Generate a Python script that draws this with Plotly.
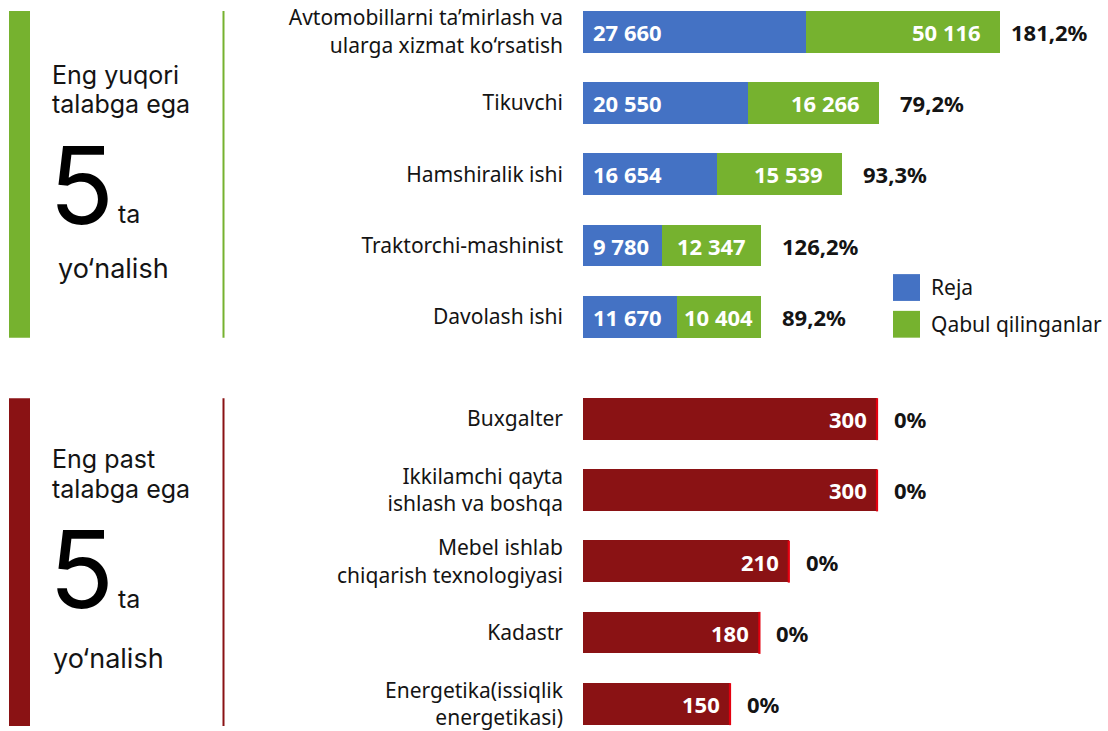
import plotly.graph_objects as go

W, H = 1108, 731

# ---------------- data ----------------
top_cats = ["Avtomobillarni ta’mirlash va<br>ularga xizmat ko‘rsatish", "Tikuvchi",
            "Hamshiralik ishi", "Traktorchi-mashinist", "Davolash ishi"]
top_plan = [27660, 20550, 16654, 9780, 11670]
top_admitted = [50116, 16266, 15539, 12347, 10404]
top_pct = ["181,2%", "79,2%", "93,3%", "126,2%", "89,2%"]

bot_cats = ["Buxgalter", "Ikkilamchi qayta<br>ishlash va boshqa",
            "Mebel ishlab<br>chiqarish texnologiyasi", "Kadastr",
            "Energetika(issiqlik<br>energetikasi)"]
bot_plan = [300, 300, 210, 180, 150]
bot_admitted = [0, 0, 0, 0, 0]
bot_pct = ["0%", "0%", "0%", "0%", "0%"]

legend_names = ["Reja", "Qabul qilinganlar"]
panel_titles = [("Eng yuqori", "talabga ega"), ("Eng past", "talabga ega")]
panel_count = [5, 5]

# ---------------- style ----------------
BLUE = "#4472C4"
GREEN = "#76B22F"
DARKRED = "#8A1214"
BRIGHTRED = "#E3000F"
TXT = "#141414"
FONT = "Noto Sans"
SIDEFONT = "Inter"
NUMFONT = "Noto Sans"

TOP_XMAX = 51830
BOT_XMAX = 425.5
BARW = 0.585
X0_PX, X1_PX = 583, 1000


def fmt(v):
    return f"{v:,}".replace(",", " ")


def px(x):
    return x / W


def py(y):
    return 1 - y / H


fig = go.Figure()

fig.add_trace(go.Bar(y=list(range(5)), x=top_plan, orientation="h", name=legend_names[0],
                     marker=dict(color=BLUE, line=dict(width=0)), width=BARW,
                     xaxis="x", yaxis="y", showlegend=False, hoverinfo="x+name"))
fig.add_trace(go.Bar(y=list(range(5)), x=top_admitted, orientation="h", name=legend_names[1],
                     marker=dict(color=GREEN, line=dict(width=0)), width=BARW,
                     xaxis="x", yaxis="y", showlegend=False, hoverinfo="x+name"))

fig.add_trace(go.Bar(y=list(range(5)), x=bot_plan, orientation="h", name=legend_names[0],
                     marker=dict(color=DARKRED, line=dict(width=0)), width=BARW,
                     xaxis="x2", yaxis="y2", showlegend=False, hoverinfo="x+name"))
# admitted (0) shown as a thin red line at the end of each plan bar
fig.add_trace(go.Scatter(y=list(range(5)), x=[p + a for p, a in zip(bot_plan, bot_admitted)],
                         mode="markers", name=legend_names[1],
                         marker=dict(symbol="line-ns", size=30,
                                     line=dict(width=2.2, color=BRIGHTRED)),
                         xaxis="x2", yaxis="y2", showlegend=False, cliponaxis=False,
                         hoverinfo="skip"))

ann = []
NUMF = dict(family=NUMFONT, size=22, weight=700)
seg_px_per_unit = (X1_PX - X0_PX) / TOP_XMAX
# top labels
for i, (p, a, pc) in enumerate(zip(top_plan, top_admitted, top_pct)):
    total = p + a
    end = min(total, TOP_XMAX)
    ann.append(dict(x=0, y=i, xref="x", yref="y", text=fmt(p), showarrow=False,
                    xanchor="left", xshift=8, font=dict(color="white", **NUMF)))
    if (end - p) * seg_px_per_unit < 110:
        ann.append(dict(x=(p + end) / 2, y=i, xref="x", yref="y", text=fmt(a), showarrow=False,
                        xanchor="center", font=dict(color="white", **NUMF)))
    else:
        ann.append(dict(x=end, y=i, xref="x", yref="y", text=fmt(a), showarrow=False,
                        xanchor="right", xshift=-17, font=dict(color="white", **NUMF)))
    ann.append(dict(x=end, y=i, xref="x", yref="y", text=pc, showarrow=False,
                    xanchor="left", xshift=9 if total > TOP_XMAX else 19,
                    font=dict(color=TXT, **NUMF)))
# bottom labels
for i, (p, a, pc) in enumerate(zip(bot_plan, bot_admitted, bot_pct)):
    ann.append(dict(x=p, y=i, xref="x2", yref="y2", text=fmt(p), showarrow=False,
                    xanchor="right", xshift=-8, font=dict(color="white", **NUMF)))
    ann.append(dict(x=p + a, y=i, xref="x2", yref="y2", text=pc, showarrow=False,
                    xanchor="left", xshift=15, font=dict(color=TXT, **NUMF)))


# left panels (Inter: ascent 0.969em, descent 0.242em -> centre = baseline - 0.3635em)
def side_block(base1, spacing, base5, base_yon, titles, count, yon_x):
    out = []
    sz = 25
    syon = 27
    b = spacing / 1.3
    out.append(dict(x=px(51), y=py(base1 - 0.969 * sz), xref="paper", yref="paper",
                    text=f"<span style='font-size:{sz}px'>{titles[0]}</span><br>"
                         f"<span style='font-size:{sz}px'>{titles[1]}</span>",
                    showarrow=False, xanchor="left", yanchor="top", align="left", borderpad=0,
                    font=dict(family=SIDEFONT, size=b, color=TXT)))
    out.append(dict(x=px(48), y=py(base5 - 0.3635 * 107), xref="paper", yref="paper",
                    text=str(count), showarrow=False, xanchor="left", yanchor="middle",
                    borderpad=0, font=dict(family=SIDEFONT, size=107, color="black")))
    out.append(dict(x=px(117), y=py(base5 - 0.3635 * sz), xref="paper", yref="paper",
                    text="ta", showarrow=False, xanchor="left", yanchor="middle",
                    borderpad=0, font=dict(family=SIDEFONT, size=sz, color=TXT)))
    out.append(dict(x=px(yon_x), y=py(base_yon - 0.3635 * syon), xref="paper", yref="paper",
                    text="yo‘nalish", showarrow=False, xanchor="left", yanchor="middle",
                    borderpad=0, font=dict(family=SIDEFONT, size=syon, color=TXT)))
    return out


ann += side_block(84, 29, 225, 280, panel_titles[0], panel_count[0], 57)
ann += side_block(470, 30, 612, 673, panel_titles[1], panel_count[1], 52)

# legend text
ann.append(dict(x=px(929), y=py(289), xref="paper", yref="paper", text=legend_names[0],
                showarrow=False, xanchor="left", yanchor="middle",
                font=dict(family=FONT, size=21, color=TXT)))
ann.append(dict(x=px(929), y=py(326), xref="paper", yref="paper", text=legend_names[1],
                showarrow=False, xanchor="left", yanchor="middle",
                font=dict(family=FONT, size=21, color=TXT)))

shapes = [
    dict(type="rect", xref="paper", yref="paper", x0=px(9), x1=px(30), y0=py(340), y1=py(11),
         fillcolor=GREEN, line=dict(width=0)),
    dict(type="line", xref="paper", yref="paper", x0=px(223.5), x1=px(223.5), y0=py(340), y1=py(11),
         line=dict(color=GREEN, width=2)),
    dict(type="rect", xref="paper", yref="paper", x0=px(9), x1=px(30), y0=py(731), y1=py(401),
         fillcolor=DARKRED, line=dict(width=0)),
    dict(type="line", xref="paper", yref="paper", x0=px(223.5), x1=px(223.5), y0=py(731), y1=py(401),
         line=dict(color=DARKRED, width=2)),
    dict(type="rect", xref="paper", yref="paper", x0=px(893), x1=px(920), y0=py(303), y1=py(276),
         fillcolor=BLUE, line=dict(width=0)),
    dict(type="rect", xref="paper", yref="paper", x0=px(893), x1=px(920), y0=py(340), y1=py(313),
         fillcolor=GREEN, line=dict(width=0)),
]

yaxis_common = dict(tickmode="array", tickvals=list(range(5)), ticks="", showgrid=False,
                    zeroline=False, showline=False, fixedrange=True,
                    tickfont=dict(family=FONT, size=21, color=TXT), ticklabelstandoff=19,
                    ticklabeloverflow="allow")

fig.update_layout(
    width=W, height=H,
    margin=dict(l=0, r=0, t=0, b=0),
    paper_bgcolor="white", plot_bgcolor="white",
    barmode="stack", bargap=0,
    showlegend=False,
    xaxis=dict(domain=[px(X0_PX), px(X1_PX)], range=[0, TOP_XMAX], visible=False, fixedrange=True),
    yaxis=dict(domain=[py(351.5), 1], range=[4.453, -0.446], ticktext=top_cats, **yaxis_common),
    xaxis2=dict(domain=[px(X0_PX), px(X1_PX)], range=[0, BOT_XMAX], visible=False, fixedrange=True,
                anchor="y2"),
    yaxis2=dict(domain=[0, py(386)], range=[4.307, -0.502], ticktext=bot_cats, anchor="x2",
                **yaxis_common),
    annotations=ann,
    shapes=shapes,
)

fig.write_html("out.html", config={"displayModeBar": False},
               post_script="document.body.style.margin='0';")
